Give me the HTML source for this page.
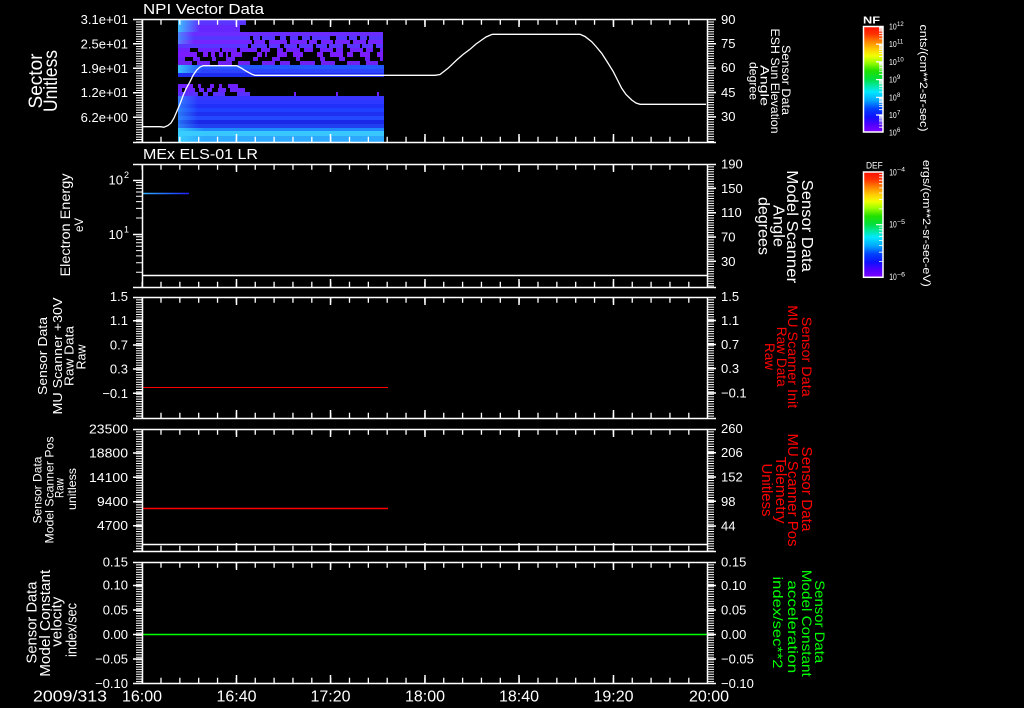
<!DOCTYPE html>
<html><head><meta charset="utf-8"><style>
html,body{margin:0;padding:0;background:#000;}
svg{display:block}
text{font-family:"Liberation Sans",sans-serif;fill:#fff}
</style></head><body>
<svg width="1024" height="708" viewBox="0 0 1024 708" xmlns="http://www.w3.org/2000/svg">
<rect width="1024" height="708" fill="#000"/>
<defs>
<linearGradient id="cb" x1="0" y1="0" x2="0" y2="1">
<stop offset="0" stop-color="#ff1000"/>
<stop offset=".07" stop-color="#ff3000"/>
<stop offset=".14" stop-color="#ff8000"/>
<stop offset=".22" stop-color="#ffd000"/>
<stop offset=".28" stop-color="#f0ff00"/>
<stop offset=".34" stop-color="#a0ff00"/>
<stop offset=".42" stop-color="#20e000"/>
<stop offset=".5" stop-color="#00e040"/>
<stop offset=".56" stop-color="#00e8a0"/>
<stop offset=".62" stop-color="#00e8ff"/>
<stop offset=".7" stop-color="#00a8ff"/>
<stop offset=".78" stop-color="#0040ff"/>
<stop offset=".86" stop-color="#1010ff"/>
<stop offset=".93" stop-color="#5000ff"/>
<stop offset="1" stop-color="#8000ff"/>
</linearGradient>
<linearGradient id="lc" x1="0" y1="0" x2="1" y2="0"><stop offset="0" stop-color="#38d0ff" stop-opacity=".9"/><stop offset="1" stop-color="#38d0ff" stop-opacity="0"/></linearGradient>
<linearGradient id="bl" x1="142" y1="0" x2="189" y2="0" gradientUnits="userSpaceOnUse"><stop offset="0" stop-color="#30b0ff"/><stop offset=".6" stop-color="#2060ff"/><stop offset="1" stop-color="#2020ff"/></linearGradient>
</defs>

<!-- Spectrogram panel 1 -->
<g>
<rect x="178" y="20" width="68" height="5" fill="#5a34ff"/>
<rect x="178" y="25" width="62" height="7" fill="#6428ff"/>
<rect x="178" y="32" width="205" height="4" fill="#6a2cff"/>
<rect x="178" y="36" width="205" height="4" fill="#5438ff"/>
<rect x="178" y="40" width="205" height="4" fill="#7424ff"/>
<rect x="178" y="44" width="205" height="4" fill="#5a34ff"/>
<rect x="178" y="48" width="205" height="4" fill="#7020ff"/>
<rect x="178" y="52" width="205" height="5" fill="#7a1cff"/>
<rect x="178" y="57" width="205" height="4" fill="#6c20f8"/>
<rect x="178" y="61" width="205" height="4" fill="#7020f0"/>
<rect x="178" y="65" width="206" height="4" fill="#2458ff"/>
<rect x="178" y="69" width="206" height="4" fill="#2c44ff"/>
<rect x="178" y="73" width="206" height="4" fill="#1e2cf0"/>
<rect x="178" y="84" width="67" height="4" fill="#7020ff"/>
<rect x="178" y="88" width="67" height="4" fill="#6a24ff"/>
<rect x="178" y="92" width="72" height="4" fill="#5a30ff"/>
<rect x="294" y="92" width="2" height="4" fill="#7020ff"/>
<rect x="336" y="92" width="2" height="4" fill="#7020ff"/>
<rect x="377" y="92" width="2" height="4" fill="#7020ff"/>
<rect x="178" y="96" width="206" height="4" fill="#3a34ff"/>
<rect x="178" y="100" width="206" height="4" fill="#2c38ff"/>
<rect x="178" y="104" width="206" height="4" fill="#2030f8"/>
<rect x="178" y="108" width="206" height="4" fill="#2040ff"/>
<rect x="178" y="112" width="206" height="4" fill="#1e30f0"/>
<rect x="178" y="116" width="206" height="4" fill="#2448ff"/>
<rect x="178" y="120" width="206" height="4" fill="#1a28e8"/>
<rect x="178" y="124" width="206" height="4" fill="#2040f0"/>
<rect x="178" y="128" width="206" height="3" fill="#2088ff"/>
<rect x="178" y="131" width="206" height="5" fill="#38c8ff"/>
<rect x="178" y="136" width="206" height="6" fill="#2ca8ff"/>
<!-- left brighter -->
<rect x="178" y="20" width="22" height="12" fill="url(#lc)"/>
<rect x="178" y="32" width="16" height="12" fill="url(#lc)" opacity=".6"/>
<rect x="178" y="65" width="24" height="8" fill="url(#lc)"/>
<rect x="178" y="96" width="20" height="32" fill="url(#lc)" opacity=".5"/>
<rect x="178" y="128" width="26" height="14" fill="url(#lc)"/>
<!-- black speckles -->
<g fill="#000">
<rect x="250" y="36" width="3" height="4"/><rect x="260" y="36" width="2" height="4"/><rect x="275" y="36" width="5" height="4"/><rect x="286" y="36" width="4" height="4"/><rect x="298" y="36" width="4" height="4"/><rect x="310" y="36" width="2" height="4"/><rect x="330" y="36" width="6" height="4"/><rect x="347" y="36" width="2" height="4"/><rect x="357" y="36" width="3" height="4"/><rect x="367" y="36" width="2" height="4"/>
<rect x="252" y="40" width="2" height="4"/><rect x="265" y="40" width="4" height="4"/><rect x="287" y="40" width="3" height="4"/><rect x="307" y="40" width="2" height="4"/><rect x="317" y="40" width="4" height="4"/><rect x="333" y="40" width="2" height="4"/><rect x="350" y="40" width="3" height="4"/><rect x="366" y="40" width="2" height="4"/>
<rect x="248" y="44" width="3" height="4"/><rect x="267" y="44" width="2" height="4"/><rect x="280" y="44" width="4" height="4"/><rect x="297" y="44" width="2" height="4"/><rect x="313" y="44" width="3" height="4"/><rect x="327" y="44" width="2" height="4"/><rect x="343" y="44" width="4" height="4"/><rect x="360" y="44" width="2" height="4"/><rect x="373" y="44" width="3" height="4"/>
<rect x="190" y="48" width="8" height="4"/><rect x="220" y="48" width="2" height="4"/><rect x="237" y="48" width="3" height="4"/><rect x="257" y="48" width="4" height="4"/><rect x="270" y="48" width="7" height="4"/><rect x="283" y="48" width="3" height="4"/><rect x="300" y="48" width="4" height="4"/><rect x="313" y="48" width="7" height="4"/><rect x="333" y="48" width="3" height="4"/><rect x="343" y="48" width="7" height="4"/><rect x="363" y="48" width="3" height="4"/><rect x="373" y="48" width="7" height="4"/>
<rect x="197" y="52" width="6" height="5"/><rect x="208" y="52" width="3" height="5"/><rect x="215" y="52" width="4" height="5"/><rect x="223" y="52" width="3" height="5"/><rect x="228" y="52" width="3" height="5"/><rect x="242" y="52" width="15" height="5"/><rect x="262" y="52" width="3" height="5"/><rect x="267" y="52" width="10" height="5"/><rect x="287" y="52" width="6" height="5"/><rect x="303" y="52" width="14" height="5"/><rect x="323" y="52" width="7" height="5"/><rect x="343" y="52" width="4" height="5"/><rect x="353" y="52" width="7" height="5"/><rect x="370" y="52" width="7" height="5"/>
<rect x="185" y="57" width="8" height="4"/><rect x="200" y="57" width="12" height="4"/><rect x="216" y="57" width="10" height="4"/><rect x="235" y="57" width="18" height="4"/><rect x="258" y="57" width="14" height="4"/><rect x="280" y="57" width="16" height="4"/><rect x="300" y="57" width="20" height="4"/><rect x="325" y="57" width="14" height="4"/><rect x="345" y="57" width="20" height="4"/><rect x="370" y="57" width="10" height="4"/>
<rect x="192" y="61" width="5" height="4"/><rect x="210" y="61" width="8" height="4"/><rect x="232" y="61" width="6" height="4"/><rect x="250" y="61" width="12" height="4"/><rect x="275" y="61" width="5" height="4"/><rect x="290" y="61" width="10" height="4"/><rect x="315" y="61" width="6" height="4"/><rect x="335" y="61" width="12" height="4"/><rect x="360" y="61" width="6" height="4"/><rect x="378" y="61" width="5" height="4"/>
<rect x="193" y="84" width="5" height="4"/><rect x="201" y="84" width="9" height="4"/><rect x="214" y="84" width="5" height="4"/><rect x="222" y="84" width="6" height="4"/><rect x="238" y="84" width="7" height="4"/>
<rect x="182" y="88" width="3" height="4"/><rect x="195" y="88" width="4" height="4"/><rect x="204" y="88" width="3" height="4"/><rect x="212" y="88" width="6" height="4"/><rect x="226" y="88" width="4" height="4"/>
<rect x="198" y="92" width="5" height="4"/><rect x="208" y="92" width="5" height="4"/><rect x="225" y="92" width="12" height="4"/>
</g>
</g>

<!-- Sun elevation line -->
<path fill="none" stroke="#fff" stroke-width="1.3" d="M142,126.7 L160,126.7 L164,127.2 L168,125.5 L171,123 L174,118 L177,111 L180,104 L183.3,95 L186,89 L190,81.7 L193,75.5 L196.7,70 L200,67 L203.3,65.7 L236.7,65.7 L241.7,68.3 L245,70.5 L248.3,72.3 L252,74.3 L255,75.3 L435,75.3 L440,74.5 L448,68.3 L456.7,60 L463,54.5 L470,49.3 L476,44 L481.7,40 L486,37 L491.7,34.5 L493,34.3 L580,34.3 L585,36.5 L591.7,41.7 L596,46.5 L601.7,53.3 L607,61.5 L613.3,71.7 L617,79 L621.7,88.3 L626,94.5 L631.7,100 L636,103 L640,104.3 L706,104.3"/>

<!-- data lines -->
<line x1="142" y1="275.5" x2="707" y2="275.5" stroke="#fff" stroke-width="1.5"/>
<line x1="142" y1="193.5" x2="189" y2="193.5" stroke="url(#bl)" stroke-width="1.5"/>
<line x1="142" y1="387.5" x2="388" y2="387.5" stroke="#ff0000" stroke-width="1"/>
<line x1="142" y1="508.5" x2="388" y2="508.5" stroke="#ff0000" stroke-width="1.5"/>
<line x1="142" y1="544.5" x2="707" y2="544.5" stroke="#fff" stroke-width="1.5"/>
<line x1="142" y1="634.5" x2="707" y2="634.5" stroke="#00ff00" stroke-width="1.5"/>

<!-- Axes -->
<g stroke="#fff" fill="none" stroke-width="1.5">
<!-- P1 -->
<path d="M142.5,19V142.5M707.5,19V142.5M133,19.5H716M133,142.5H716"/>
<line x1="141.5" y1="22" x2="708" y2="22" stroke-width="5.5" stroke-dasharray="1.3 17.55"/>
<line x1="141.5" y1="139.5" x2="708" y2="139.5" stroke-width="5.5" stroke-dasharray="1.3 17.55"/>
<path d="M236.5,19V27M330.5,19V27M425,19V27M519,19V27M613.5,19V27M236.5,142V134M330.5,142V134M425,142V134M519,142V134M613.5,142V134"/>
<line x1="139" y1="19" x2="139" y2="142" stroke-width="6" stroke-dasharray="1 1.45"/>
<line x1="711" y1="19" x2="711" y2="142" stroke-width="6" stroke-dasharray="1 1.44"/>
<path d="M133,43.8H142M133,68.3H142M133,92.7H142M133,117.3H142M707,43.7H716M707,68.1H716M707,92.5H716M707,116.9H716"/>
<!-- P2 -->
<path d="M142.5,164V287.5M707.5,164V287.5M133,164.5H716M133,287.5H716"/>
<line x1="141.5" y1="167" x2="708" y2="167" stroke-width="5.5" stroke-dasharray="1.3 17.55"/>
<line x1="141.5" y1="284.5" x2="708" y2="284.5" stroke-width="5.5" stroke-dasharray="1.3 17.55"/>
<path d="M236.5,164V172M330.5,164V172M425,164V172M519,164V172M613.5,164V172M236.5,287V279M330.5,287V279M425,287V279M519,287V279M613.5,287V279"/>
<path stroke-width="1" d="M136,182.5H142M136,185.3H142M136,188.4H142M136,192H142M136,196.3H142M136,201.6H142M136,208.4H142M136,218H142M136,236.8H142M136,239.6H142M136,242.7H142M136,246.3H142M136,250.6H142M136,255.9H142M136,262.7H142M136,272.3H142"/>
<path d="M133,180.5H142M133,234.5H142"/>
<line x1="711" y1="164" x2="711" y2="287" stroke-width="6" stroke-dasharray="1 1.43"/>
<path d="M707,188.3H716M707,212.7H716M707,237H716M707,261.3H716"/>
<!-- P3 -->
<path d="M142.5,297V418.5M707.5,297V418.5M133,297.5H716M133,418.5H716"/>
<line x1="141.5" y1="300" x2="708" y2="300" stroke-width="5.5" stroke-dasharray="1.3 17.55"/>
<line x1="141.5" y1="415.5" x2="708" y2="415.5" stroke-width="5.5" stroke-dasharray="1.3 17.55"/>
<path d="M236.5,297V305M330.5,297V305M425,297V305M519,297V305M613.5,297V305M236.5,418V410M330.5,418V410M425,418V410M519,418V410M613.5,418V410"/>
<line x1="139" y1="297" x2="139" y2="418" stroke-width="6" stroke-dasharray="1 1.42"/>
<line x1="711" y1="297" x2="711" y2="418" stroke-width="6" stroke-dasharray="1 1.42"/>
<path d="M133,320.7H142M133,345H142M133,369H142M133,393.3H142M707,320.5H716M707,344.5H716M707,368.5H716M707,393H716"/>
<!-- P4 -->
<path d="M142.5,429V551.5M707.5,429V551.5M133,429.5H716M133,551.5H716"/>
<line x1="141.5" y1="432" x2="708" y2="432" stroke-width="5.5" stroke-dasharray="1.3 17.55"/>
<line x1="141.5" y1="548.5" x2="708" y2="548.5" stroke-width="5.5" stroke-dasharray="1.3 17.55"/>
<path d="M236.5,429V437M330.5,429V437M425,429V437M519,429V437M613.5,429V437M236.5,551V543M330.5,551V543M425,551V543M519,551V543M613.5,551V543"/>
<line x1="139" y1="429" x2="139" y2="551" stroke-width="6" stroke-dasharray="1 1.43"/>
<line x1="711" y1="429" x2="711" y2="551" stroke-width="6" stroke-dasharray="1 1.43"/>
<path d="M133,453H142M133,477.3H142M133,501.7H142M133,525.7H142M707,452.7H716M707,477H716M707,501.3H716M707,526H716"/>
<!-- P5 -->
<path d="M142.5,562V683.5M707.5,562V683.5M133,562.5H716M133,683.5H716"/>
<line x1="141.5" y1="565" x2="708" y2="565" stroke-width="5.5" stroke-dasharray="1.3 17.55"/>
<line x1="141.5" y1="680.5" x2="708" y2="680.5" stroke-width="5.5" stroke-dasharray="1.3 17.55"/>
<path d="M236.5,562V570M330.5,562V570M425,562V570M519,562V570M613.5,562V570M236.5,683V675M330.5,683V675M425,683V675M519,683V675M613.5,683V675"/>
<line x1="139" y1="562" x2="139" y2="683" stroke-width="6" stroke-dasharray="1 1.43"/>
<line x1="711" y1="562" x2="711" y2="683" stroke-width="6" stroke-dasharray="1 1.43"/>
<path d="M133,585.5H142M133,610H142M133,634.5H142M133,659H142M707,585.5H716M707,610H716M707,634.5H716M707,659H716"/>
</g>

<!-- Titles -->
<text x="143" y="14" font-size="15" textLength="121" lengthAdjust="spacingAndGlyphs">NPI Vector Data</text>
<text x="143" y="159" font-size="15" textLength="115" lengthAdjust="spacingAndGlyphs">MEx ELS-01 LR</text>

<!-- Left tick labels -->
<g font-size="13" text-anchor="end">
<text x="128" y="23.8">3.1e+01</text>
<text x="128" y="48.3">2.5e+01</text>
<text x="128" y="72.8">1.9e+01</text>
<text x="128" y="97.2">1.2e+01</text>
<text x="128" y="121.8">6.2e+00</text>
<text x="123" y="184.5">10</text>
<text x="123" y="238.8">10</text>
<text x="128" y="301.2">1.5</text>
<text x="128" y="325.2">1.1</text>
<text x="128" y="349.5">0.7</text>
<text x="128" y="373.5">0.3</text>
<text x="128" y="397.8">−0.1</text>
<text x="128" y="433.5" textLength="39" lengthAdjust="spacingAndGlyphs">23500</text>
<text x="128" y="457.5" textLength="39" lengthAdjust="spacingAndGlyphs">18800</text>
<text x="128" y="481.8" textLength="39" lengthAdjust="spacingAndGlyphs">14100</text>
<text x="128" y="506.2" textLength="31" lengthAdjust="spacingAndGlyphs">9400</text>
<text x="128" y="530.2" textLength="31" lengthAdjust="spacingAndGlyphs">4700</text>
<text x="128" y="566.5">0.15</text>
<text x="128" y="589.5">0.10</text>
<text x="128" y="614.5">0.05</text>
<text x="128" y="638.8">0.00</text>
<text x="128" y="663.5">−0.05</text>
<text x="128" y="687.8">−0.10</text>
</g>
<text x="124" y="178" font-size="9">2</text>
<text x="124" y="232.5" font-size="9">1</text>

<!-- Right tick labels -->
<g font-size="13">
<text x="721" y="23.8">90</text>
<text x="721" y="47.8">75</text>
<text x="721" y="72.2">60</text>
<text x="721" y="96.8">45</text>
<text x="721" y="121.2">30</text>
<text x="721" y="168.5">190</text>
<text x="721" y="192.8">150</text>
<text x="721" y="217.2">110</text>
<text x="721" y="241.5">70</text>
<text x="721" y="265.8">30</text>
<text x="721" y="301.2">1.5</text>
<text x="721" y="325">1.1</text>
<text x="721" y="349">0.7</text>
<text x="721" y="373">0.3</text>
<text x="721" y="397.5">−0.1</text>
<text x="721" y="432.8">260</text>
<text x="721" y="457.2">206</text>
<text x="721" y="481.5">152</text>
<text x="721" y="505.8">98</text>
<text x="721" y="530.5">44</text>
<text x="721" y="566.5">0.15</text>
<text x="721" y="590">0.10</text>
<text x="721" y="614.5">0.05</text>
<text x="721" y="638.8">0.00</text>
<text x="721" y="663.5">−0.05</text>
<text x="721" y="687.8">−0.10</text>
</g>

<!-- Bottom time labels -->
<g font-size="16">
<text x="33" y="701.7" textLength="74" lengthAdjust="spacingAndGlyphs">2009/313</text>
<g text-anchor="middle">
<text x="142" y="701.7">16:00</text>
<text x="236.5" y="701.7">16:40</text>
<text x="330.5" y="701.7">17:20</text>
<text x="425" y="701.7">18:00</text>
<text x="519" y="701.7">18:40</text>
<text x="613.5" y="701.7">19:20</text>
<text x="709" y="701.7">20:00</text>
</g>
</g>

<!-- Left axis titles (rotated -90) -->
<g text-anchor="middle">
<text transform="translate(42,81) rotate(-90)" font-size="19" textLength="55" lengthAdjust="spacingAndGlyphs">Sector</text>
<text transform="translate(57,81) rotate(-90)" font-size="19" textLength="62" lengthAdjust="spacingAndGlyphs">Unitless</text>

<text transform="translate(70,225) rotate(-90)" font-size="14" textLength="103" lengthAdjust="spacingAndGlyphs">Electron Energy</text>
<text transform="translate(83,225) rotate(-90)" font-size="12" textLength="14" lengthAdjust="spacingAndGlyphs">eV</text>

<text transform="translate(47,356) rotate(-90)" font-size="13" textLength="78" lengthAdjust="spacingAndGlyphs">Sensor Data</text>
<text transform="translate(62,356) rotate(-90)" font-size="13" textLength="117" lengthAdjust="spacingAndGlyphs">MU Scanner +30V</text>
<text transform="translate(73.5,356) rotate(-90)" font-size="13" textLength="60" lengthAdjust="spacingAndGlyphs">Raw Data</text>
<text transform="translate(85.5,357) rotate(-90)" font-size="13" textLength="25" lengthAdjust="spacingAndGlyphs">Raw</text>

<text transform="translate(41.7,490) rotate(-90)" font-size="12" textLength="67" lengthAdjust="spacingAndGlyphs">Sensor Data</text>
<text transform="translate(53.3,490) rotate(-90)" font-size="12" textLength="107" lengthAdjust="spacingAndGlyphs">Model Scanner Pos</text>
<text transform="translate(63.3,488) rotate(-90)" font-size="12" textLength="20" lengthAdjust="spacingAndGlyphs">Raw</text>
<text transform="translate(76,489) rotate(-90)" font-size="12" textLength="42" lengthAdjust="spacingAndGlyphs">unitless</text>

<text transform="translate(36.7,622.5) rotate(-90)" font-size="15" textLength="82" lengthAdjust="spacingAndGlyphs">Sensor Data</text>
<text transform="translate(50,623.3) rotate(-90)" font-size="15" textLength="107" lengthAdjust="spacingAndGlyphs">Model Constant</text>
<text transform="translate(61.5,621.7) rotate(-90)" font-size="15" textLength="50" lengthAdjust="spacingAndGlyphs">velocity</text>
<text transform="translate(76.7,630) rotate(-90)" font-size="15" textLength="54" lengthAdjust="spacingAndGlyphs">index/sec</text>
</g>

<!-- Right axis titles (rotated 90) -->
<g text-anchor="middle">
<text transform="translate(782,80) rotate(90)" font-size="12" textLength="70" lengthAdjust="spacingAndGlyphs">Sensor Data</text>
<text transform="translate(771,81) rotate(90)" font-size="12" textLength="105" lengthAdjust="spacingAndGlyphs">ESH Sun Elevation</text>
<text transform="translate(760.5,85.5) rotate(90)" font-size="12" textLength="41" lengthAdjust="spacingAndGlyphs">Angle</text>
<text transform="translate(749.5,81) rotate(90)" font-size="12" textLength="38" lengthAdjust="spacingAndGlyphs">degree</text>

<text transform="translate(802,225.8) rotate(90)" font-size="16" textLength="92" lengthAdjust="spacingAndGlyphs">Sensor Data</text>
<text transform="translate(787,226.7) rotate(90)" font-size="16" textLength="113" lengthAdjust="spacingAndGlyphs">Model Scanner</text>
<text transform="translate(773.5,226) rotate(90)" font-size="16" textLength="42" lengthAdjust="spacingAndGlyphs">Angle</text>
<text transform="translate(758.5,226) rotate(90)" font-size="16" textLength="58" lengthAdjust="spacingAndGlyphs">degrees</text>

<g style="fill:#ff0000">
<text transform="translate(802,356.7) rotate(90)" font-size="14" textLength="80" lengthAdjust="spacingAndGlyphs" style="fill:#ff0000">Sensor Data</text>
<text transform="translate(788,356.7) rotate(90)" font-size="14" textLength="103" lengthAdjust="spacingAndGlyphs" style="fill:#ff0000">MU Scanner Init</text>
<text transform="translate(777,356.7) rotate(90)" font-size="14" textLength="60" lengthAdjust="spacingAndGlyphs" style="fill:#ff0000">Raw Data</text>
<text transform="translate(765,356.5) rotate(90)" font-size="14" textLength="27" lengthAdjust="spacingAndGlyphs" style="fill:#ff0000">Raw</text>

<text transform="translate(802,489) rotate(90)" font-size="15" textLength="85" lengthAdjust="spacingAndGlyphs" style="fill:#ff0000">Sensor Data</text>
<text transform="translate(788,490) rotate(90)" font-size="15" textLength="113" lengthAdjust="spacingAndGlyphs" style="fill:#ff0000">MU Scanner Pos</text>
<text transform="translate(776,490) rotate(90)" font-size="15" textLength="67" lengthAdjust="spacingAndGlyphs" style="fill:#ff0000">Telemetry</text>
<text transform="translate(762,490) rotate(90)" font-size="15" textLength="53" lengthAdjust="spacingAndGlyphs" style="fill:#ff0000">Unitless</text>
</g>

<text transform="translate(815,621.7) rotate(90)" font-size="14" textLength="83" lengthAdjust="spacingAndGlyphs" style="fill:#00ff00">Sensor Data</text>
<text transform="translate(802,623.3) rotate(90)" font-size="14" textLength="107" lengthAdjust="spacingAndGlyphs" style="fill:#00ff00">Model Constant</text>
<text transform="translate(788,626.7) rotate(90)" font-size="14" textLength="93" lengthAdjust="spacingAndGlyphs" style="fill:#00ff00">acceleration</text>
<text transform="translate(773,622.5) rotate(90)" font-size="14" textLength="92" lengthAdjust="spacingAndGlyphs" style="fill:#00ff00">index/sec**2</text>
</g>

<!-- Colorbar 1 -->
<rect x="863.5" y="26.5" width="19.5" height="105.5" fill="url(#cb)" stroke="#fff" stroke-width="1.5"/>
<g stroke="#fff" stroke-width="0.8">
<path d="M879,127.2H883M879,124.1H883M879,121.9H883M879,120.2H883M879,118.8H883M879,117.6H883M879,116.5H883M879,115.6H883
M879,109.7H883M879,106.6H883M879,104.4H883M879,102.7H883M879,101.3H883M879,100.1H883M879,99H883M879,98.1H883
M879,92H883M879,88.9H883M879,86.7H883M879,85H883M879,83.6H883M879,82.4H883M879,81.3H883M879,80.4H883
M879,74.3H883M879,71.2H883M879,69H883M879,67.3H883M879,65.9H883M879,64.7H883M879,63.6H883M879,62.7H883
M879,56.6H883M879,53.5H883M879,51.3H883M879,49.6H883M879,48.2H883M879,47H883M879,45.9H883M879,45H883
M879,38.9H883M879,35.8H883M879,33.6H883M879,31.9H883M879,30.5H883M879,29.3H883M879,28.2H883M879,27.3H883"/>
<path stroke-width="1.2" d="M876,44.2H883M876,61.9H883M876,79.6H883M876,97.3H883M876,115H883"/>
</g>
<text x="863" y="23.3" font-size="10" font-weight="bold" textLength="17" lengthAdjust="spacingAndGlyphs">NF</text>
<g font-size="8">
<text x="889" y="29.5" textLength="7.7" lengthAdjust="spacingAndGlyphs">10</text>
<text x="889" y="47.2" textLength="7.7" lengthAdjust="spacingAndGlyphs">10</text>
<text x="889" y="64.9" textLength="7.7" lengthAdjust="spacingAndGlyphs">10</text>
<text x="889" y="82.6" textLength="7.7" lengthAdjust="spacingAndGlyphs">10</text>
<text x="889" y="100.3" textLength="7.7" lengthAdjust="spacingAndGlyphs">10</text>
<text x="889" y="118" textLength="7.7" lengthAdjust="spacingAndGlyphs">10</text>
<text x="889" y="135.5" textLength="7.7" lengthAdjust="spacingAndGlyphs">10</text>
</g>
<g font-size="6">
<text x="897" y="26">12</text>
<text x="897" y="43.7">11</text>
<text x="897" y="61.4">10</text>
<text x="897" y="79.1">9</text>
<text x="897" y="96.8">8</text>
<text x="897" y="114.5">7</text>
<text x="897" y="132">6</text>
</g>
<text transform="translate(920,78) rotate(90)" font-size="11" text-anchor="middle" textLength="107" lengthAdjust="spacingAndGlyphs">cnts/(cm**2-sr-sec)</text>

<!-- Colorbar 2 -->
<rect x="863.5" y="172" width="19.5" height="105.3" fill="url(#cb)" stroke="#fff" stroke-width="1.5"/>
<g stroke="#fff" stroke-width="0.8">
<path d="M879,261.5H883M879,252.2H883M879,245.6H883M879,240.5H883M879,236.3H883M879,232.8H883M879,229.8H883M879,227.1H883
M879,208.9H883M879,199.6H883M879,193H883M879,187.9H883M879,183.7H883M879,180.2H883M879,177.2H883M879,174.5H883"/>
<path stroke-width="1.2" d="M876,224.7H883"/>
</g>
<text x="866" y="168.3" font-size="9.5" textLength="16.7" lengthAdjust="spacingAndGlyphs">DEF</text>
<g font-size="9">
<text x="889.3" y="175.3" textLength="7.5" lengthAdjust="spacingAndGlyphs">10</text>
<text x="889.3" y="227.5" textLength="7.5" lengthAdjust="spacingAndGlyphs">10</text>
<text x="889.3" y="280" textLength="7.5" lengthAdjust="spacingAndGlyphs">10</text>
</g>
<g font-size="6.5">
<text x="897" y="171.5" textLength="8" lengthAdjust="spacingAndGlyphs">−4</text>
<text x="897" y="224" textLength="8" lengthAdjust="spacingAndGlyphs">−5</text>
<text x="897" y="276.5" textLength="8" lengthAdjust="spacingAndGlyphs">−6</text>
</g>
<text transform="translate(923,223.3) rotate(90)" font-size="11" text-anchor="middle" textLength="127" lengthAdjust="spacingAndGlyphs">ergs/(cm**2-sr-sec-eV)</text>
</svg>
</body></html>
